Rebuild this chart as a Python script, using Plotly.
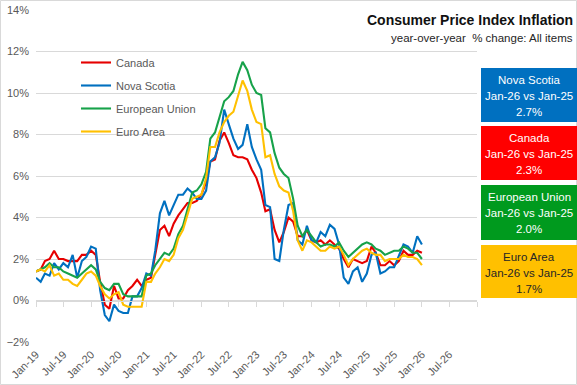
import pandas as pd
import plotly.graph_objects as go

months = pd.date_range("2019-01-01", periods=85, freq="MS")
tick_dates = pd.date_range("2019-01-01", "2026-07-01", freq="6MS")
tick_labels = [d.strftime("%b-%y") for d in tick_dates]

canada = [1.4, 1.5, 1.9, 2.0, 2.4, 2.0, 2.0, 1.9, 1.9, 1.9, 2.2, 2.2,
          2.4, 2.2, 0.9, -0.2, -0.4, 0.7, 0.1, 0.1, 0.5, 0.7, 1.0, 0.7,
          1.0, 1.1, 2.2, 3.4, 3.6, 3.1, 3.7, 4.1, 4.4, 4.7, 4.7, 4.8,
          5.1, 5.7, 6.7, 6.8, 7.7, 8.1, 7.6, 7.0, 6.9, 6.9, 6.8, 6.3,
          5.9, 5.2, 4.3, 4.4, 3.4, 2.8, 3.3, 4.0, 3.8, 3.1, 3.1, 3.4,
          2.9, 2.8, 2.9, 2.7, 2.9, 2.7, 2.5, 2.0, 1.6, 2.0, 1.9, 1.8,
          1.9, 2.6, 2.3, 1.7, 1.7, 1.9, 1.7, 1.9, 2.4, 2.2, 2.2, 2.4,
          2.3]
nova_scotia = [1.1, 0.9, 1.3, 1.2, 1.8, 1.5, 1.8, 1.6, 2.2, 1.1, 1.9, 2.1,
               2.6, 2.5, 0.5, -0.7, -1.0, -0.2, -0.5, -0.6, -0.6, 0.2, 0.2, 0.6,
               1.3, 1.2, 2.4, 4.2, 4.8, 4.1, 4.6, 5.1, 5.1, 5.4, 5.2, 4.9,
               4.9, 5.3, 6.7, 6.9, 7.6, 9.2, 8.5, 7.8, 7.3, 7.5, 8.5, 7.4,
               6.8, 6.3, 4.6, 4.5, 2.0, 1.9, 3.4, 4.6, 4.7, 2.9, 2.7, 3.6,
               2.9, 2.8, 3.3, 3.1, 3.65, 3.45, 2.7, 1.1, 0.8, 1.4, 1.6, 0.9,
               1.3, 2.2, 2.3, 1.3, 1.4, 1.6, 1.6, 2.2, 2.7, 2.6, 2.3, 3.1,
               2.7]
european_union = [1.4, 1.5, 1.6, 1.8, 1.6, 1.6, 1.4, 1.3, 1.2, 1.1, 1.3, 1.5,
                  1.7, 1.5, 0.9, 0.6, 0.5, 0.8, 0.8, 0.3, 0.2, 0.2, 0.2, 0.2,
                  1.2, 1.3, 1.7, 2.0, 2.3, 2.2, 2.5, 3.2, 3.6, 4.4, 5.2, 5.3,
                  5.6, 6.2, 7.8, 8.1, 8.8, 9.6, 9.8, 10.1, 10.9, 11.5, 11.1, 10.4,
                  10.0, 9.9, 8.3, 8.1, 7.1, 6.4, 6.1, 5.9, 4.9, 3.6, 3.1, 3.4,
                  3.1, 2.8, 2.6, 2.7, 2.7, 2.6, 2.8, 2.4, 2.1, 2.3, 2.5, 2.7,
                  2.8, 2.7, 2.5, 2.4, 2.2, 2.3, 2.4, 2.4, 2.6, 2.5, 2.3, 2.3,
                  2.0]
euro_area = [1.4, 1.5, 1.4, 1.7, 1.2, 1.3, 1.0, 1.0, 0.8, 0.7, 1.0, 1.3,
             1.4, 1.2, 0.7, 0.3, 0.1, 0.3, 0.4, -0.2, -0.3, -0.3, -0.3, -0.3,
             0.9, 0.9, 1.3, 1.6, 2.0, 1.9, 2.2, 3.0, 3.4, 4.1, 4.9, 5.0,
             5.1, 5.9, 7.4, 7.4, 8.1, 8.6, 8.9, 9.1, 9.9, 10.6, 10.1, 9.2,
             8.6, 8.5, 6.9, 7.0, 6.1, 5.5, 5.3, 5.2, 4.3, 2.9, 2.4, 2.9,
             2.8, 2.6, 2.4, 2.4, 2.6, 2.5, 2.6, 2.2, 1.7, 2.0, 2.2, 2.4,
             2.5, 2.3, 2.2, 2.2, 1.9, 2.0, 2.0, 2.0, 2.2, 2.1, 2.1, 2.0,
             1.7]

series_names = ["Canada", "Nova Scotia", "European Union", "Euro Area"]
series_values = [canada, nova_scotia, european_union, euro_area]
line_colors = ["#E60000", "#0070C0", "#17A24A", "#FFC000"]

box_labels = ["Nova Scotia", "Canada", "European Union", "Euro Area"]
box_values = ["2.7%", "2.3%", "2.0%", "1.7%"]
box_period = "Jan-26 vs Jan-25"
box_colors = ["#0070C0", "#FF0000", "#009A1E", "#FFC000"]
box_text_colors = ["white", "white", "white", "#262626"]

W, H = 577, 385
L, R, T, B = 36, 477, 10, 342


def px(x):
    return (x - L) / (R - L)


def py(y):
    return (B - y) / (B - T)


FONT = "Liberation Sans, Arial, sans-serif"
GRAY = "#595959"

fig = go.Figure()
for name, vals, col in zip(series_names, series_values, line_colors):
    fig.add_trace(go.Scatter(x=months, y=vals, mode="lines", name=name,
                             legendgroup=name,
                             line=dict(color=col, width=2.1)))

# empty trace for the zero-line axis
fig.add_trace(go.Scatter(x=[], y=[], xaxis="x2", showlegend=False))

fig.update_layout(
    width=W, height=H,
    margin=dict(l=L, r=W - R, t=T, b=H - B, autoexpand=False),
    paper_bgcolor="white", plot_bgcolor="white",
    font=dict(family=FONT, size=11, color=GRAY),
    xaxis=dict(type="date", range=["2019-01-01", "2027-01-01"],
               tickvals=tick_dates, ticktext=tick_labels,
               tickangle=-45, showgrid=False, showline=False, zeroline=False,
               ticks="", ticklabelstandoff=3, automargin=False,
               tickfont=dict(size=11, color=GRAY)),
    xaxis2=dict(type="date", overlaying="x", matches="x", anchor="free",
                position=0.125, side="bottom",
                tick0="2019-01-01", dtick="M6", showticklabels=False,
                showgrid=False, showline=True, linecolor="#D9D9D9", linewidth=1,
                ticks="outside", ticklen=5, tickcolor="#D9D9D9", tickwidth=1),
    yaxis=dict(range=[-2, 14], dtick=2, ticksuffix="%", showgrid=True,
               gridcolor="#D9D9D9", gridwidth=1, zeroline=False, showline=False,
               ticklabelstandoff=6, automargin=False,
               tickfont=dict(size=11, color=GRAY)),
    legend=dict(x=px(76), y=py(48), xanchor="left", yanchor="top",
                bgcolor="rgba(0,0,0,0)", font=dict(size=11, color=GRAY),
                tracegroupgap=4, itemwidth=30),
    showlegend=True,
)

shapes = [dict(type="rect", xref="paper", yref="paper",
               x0=px(0.5), x1=px(576.5), y0=py(384.5), y1=py(0.5),
               line=dict(color="#D9D9D9", width=1), fillcolor="rgba(0,0,0,0)",
               layer="below")]

box_tops = [68, 126, 185, 245]
box_bottoms = [122, 180, 240, 298]
line_centers = [[80, 96, 112], [138, 154, 170], [197, 213, 229], [257, 273, 289]]
annotations = []
for lab, val, bc, tc, y0, y1, lc in zip(box_labels, box_values, box_colors,
                                        box_text_colors, box_tops, box_bottoms,
                                        line_centers):
    shapes.append(dict(type="rect", xref="paper", yref="paper",
                       x0=px(481), x1=px(577), y0=py(y1), y1=py(y0),
                       line=dict(width=0), fillcolor=bc))
    for txt, yc in zip([lab, box_period, val], lc):
        annotations.append(dict(text=txt, xref="paper", yref="paper",
                                x=px(529), y=py(yc), xanchor="center",
                                yanchor="middle", showarrow=False,
                                font=dict(family=FONT, size=11.5, color=tc)))

annotations.append(dict(text="<b>Consumer Price Index Inflation</b>",
                        xref="paper", yref="paper", x=px(575), y=py(20),
                        xanchor="right", yanchor="middle", showarrow=False,
                        font=dict(family=FONT, size=14, color="#111111")))
annotations.append(dict(text="year-over-year  % change: All items",
                        xref="paper", yref="paper", x=px(575), y=py(38),
                        xanchor="right", yanchor="middle", showarrow=False,
                        font=dict(family=FONT, size=11.5, color="#262626")))

fig.update_layout(shapes=shapes, annotations=annotations)
fig.write_html("out.html",
               config={"displayModeBar": False},
               post_script="document.body.style.margin='0px';"
                           "document.body.style.overflow='hidden';")
